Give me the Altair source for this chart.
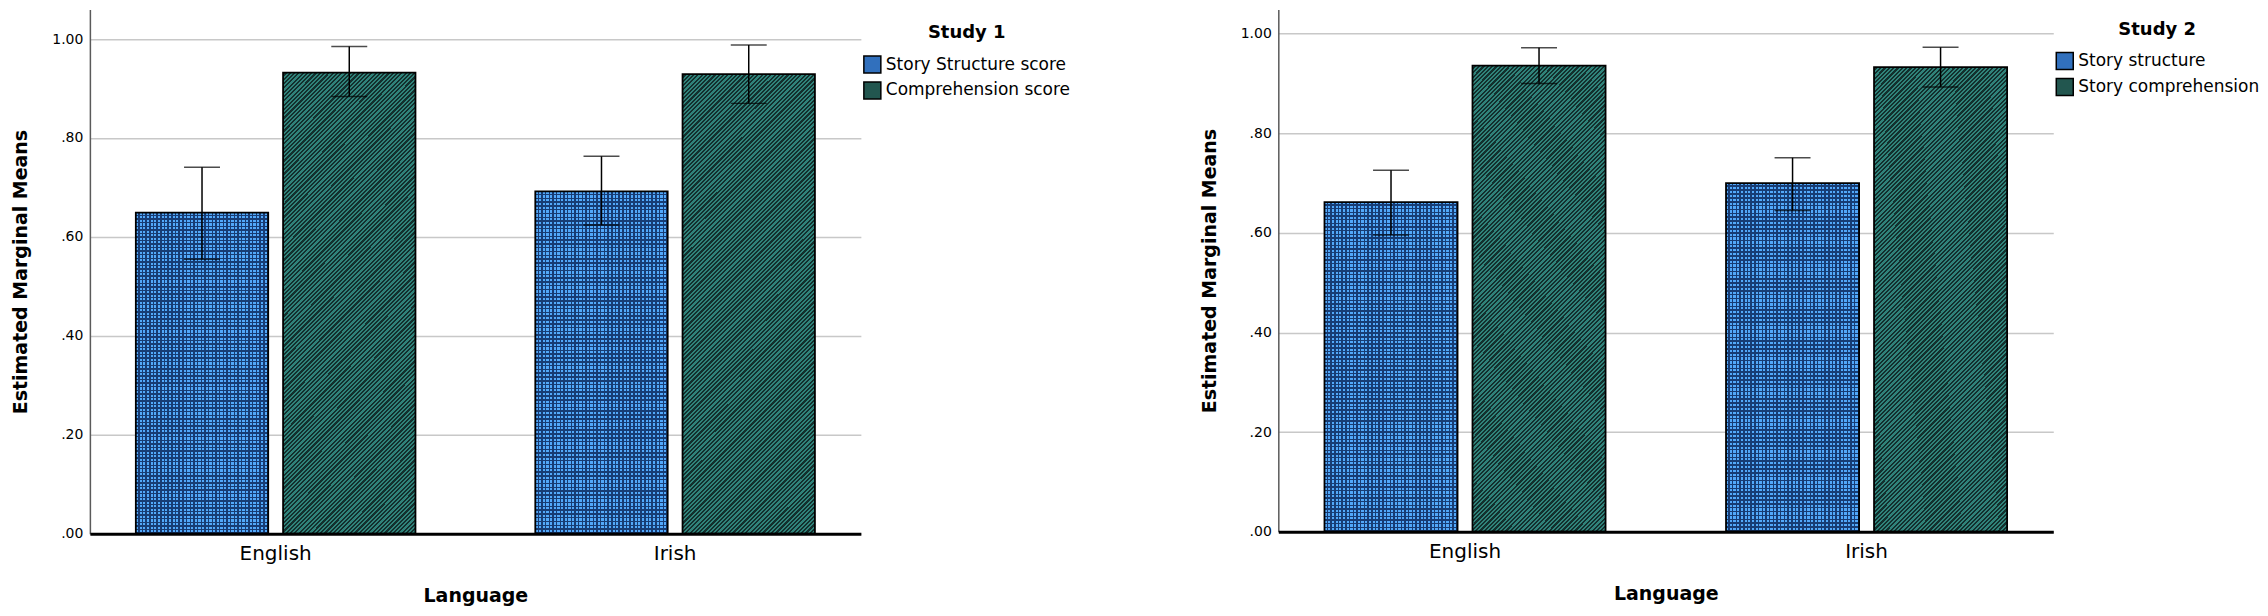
import altair as alt
import pandas as pd

# ---------------- data ----------------
languages = ["English", "Irish"]
y_ticks = [0.0, 0.2, 0.4, 0.6, 0.8, 1.0]

study1_title = "Study 1"
study1_series = ["Story Structure score", "Comprehension score"]
study1_structure_mean = [0.649, 0.692]
study1_structure_low = [0.555, 0.624]
study1_structure_high = [0.741, 0.763]
study1_comprehension_mean = [0.932, 0.929]
study1_comprehension_low = [0.884, 0.870]
study1_comprehension_high = [0.985, 0.988]

study2_title = "Study 2"
study2_series = ["Story structure", "Story comprehension"]
study2_structure_mean = [0.662, 0.700]
study2_structure_low = [0.596, 0.645]
study2_structure_high = [0.726, 0.751]
study2_comprehension_mean = [0.936, 0.933]
study2_comprehension_low = [0.900, 0.893]
study2_comprehension_high = [0.972, 0.973]

# ---------------- styles ----------------
FONT = "DejaVu Sans"
BLUE_AVG = "#3170bd"
TEAL_AVG = "#22564f"
BLUE_LIGHT = "#52a8fa"
BLUE_DARK = "#173c74"
TEAL_LIGHT = "#30837a"
TEAL_DARK = "#13302e"


def stripe_stops(n, c1, c2, frac):
    stops = []
    for i in range(n):
        a = i / n
        b = (i + frac) / n
        c = (i + 1) / n
        stops += [
            {"offset": a, "color": c1},
            {"offset": b, "color": c1},
            {"offset": b, "color": c2},
            {"offset": c, "color": c2},
        ]
    return stops


# diagonal hatch ("/") for comprehension bars
_w, _h = 133.0, 462.0
_k = (_w + _h) / (_w * _w + _h * _h)
hatch_fill = {
    "gradient": "linear",
    "x1": 0, "y1": 0, "x2": _k * _w, "y2": _k * _h,
    "stops": stripe_stops(138, TEAL_LIGHT, TEAL_DARK, 0.5),
}
# checker for structure bars: vertical stripes + horizontal overlay
vert_fill = {
    "gradient": "linear",
    "x1": 0, "y1": 0, "x2": 1, "y2": 0,
    "stops": stripe_stops(36, BLUE_LIGHT, BLUE_DARK, 0.6),
}
horiz_fill = {
    "gradient": "linear",
    "x1": 0, "y1": 0, "x2": 0, "y2": 1,
    "stops": stripe_stops(90, "rgba(0,0,0,0)", BLUE_DARK, 0.6),
}


def make_panel(title, series, s_m, s_lo, s_hi, c_m, c_lo, c_hi,
               width, height, ymax, lx, ly):
    rows = []
    for i, lang in enumerate(languages):
        rows.append({"language": lang, "series": series[0],
                     "mean": s_m[i], "low": s_lo[i], "high": s_hi[i]})
        rows.append({"language": lang, "series": series[1],
                     "mean": c_m[i], "low": c_lo[i], "high": c_hi[i]})
    df = pd.DataFrame(rows)

    x = alt.X(
        "language:N",
        sort=languages,
        scale=alt.Scale(domain=languages, paddingInner=0.3, paddingOuter=0.115),
        axis=alt.Axis(
            title="Language", labelAngle=0, labelFontSize=20, labelPadding=10,
            ticks=False, domainColor="black", domainWidth=3, grid=False,
            titleFontSize=19, titleFontWeight="bold", titlePadding=23,
            zindex=1, labelColor="black", titleColor="black",
        ),
    )
    xo = alt.XOffset(
        "series:N",
        scale=alt.Scale(domain=series, paddingInner=0.101, paddingOuter=0),
    )
    yaxis = alt.Axis(
        title="Estimated Marginal Means", values=y_ticks,
        labelExpr="datum.value >= 1 ? format(datum.value, '.2f') : '.' + substring(format(datum.value, '.2f'), 2)",
        labelFontSize=14, labelPadding=7, ticks=False,
        domainColor="#5a5a5a", domainWidth=1.5,
        gridColor="#c8c8c8", gridWidth=1.5,
        titleFontSize=19, titleFontWeight="bold", titlePadding=21,
        labelColor="black", titleColor="black", zindex=0,
    )
    yscale = alt.Scale(domain=[0, ymax], nice=False, zero=True)

    def ye(field):
        return alt.Y(field, scale=yscale, axis=yaxis, title="Estimated Marginal Means")

    base = alt.Chart(df)

    solid = base.mark_bar().encode(
        x=x, xOffset=xo, y=ye("mean:Q"),
        color=alt.Color(
            "series:N",
            scale=alt.Scale(domain=series, range=[BLUE_AVG, TEAL_AVG]),
            legend=alt.Legend(
                title=title, orient="none", legendX=lx, legendY=ly,
                direction="vertical", symbolType="square", symbolSize=289,
                symbolStrokeColor="black", symbolStrokeWidth=1.5,
                symbolOpacity=1, labelFontSize=17, labelColor="black",
                labelLimit=400,
                titleFontSize=18, titleFontWeight="bold", titleColor="black",
                titleAnchor="middle", rowPadding=3, labelOffset=4,
                titlePadding=13, padding=0,
            ),
        ),
    )
    hatch = base.transform_filter(
        alt.datum.series == series[1]
    ).mark_bar(fill=hatch_fill, stroke="black", strokeWidth=1.8).encode(
        x=x, xOffset=xo, y=ye("mean:Q"))
    vstripes = base.transform_filter(
        alt.datum.series == series[0]
    ).mark_bar(fill=vert_fill).encode(x=x, xOffset=xo, y=ye("mean:Q"))
    hstripes = base.transform_filter(
        alt.datum.series == series[0]
    ).mark_bar(fill=horiz_fill, stroke="black", strokeWidth=1.8).encode(
        x=x, xOffset=xo, y=ye("mean:Q"))

    whisker = base.mark_rule(color="black", strokeWidth=1.5).encode(
        x=x, xOffset=xo, y=ye("low:Q"), y2="high:Q")
    cap_lo = base.mark_tick(color="black", thickness=1.5, size=36,
                            orient="horizontal").encode(
        x=x, xOffset=xo, y=ye("low:Q"))
    cap_hi = base.mark_tick(color="black", thickness=1.5, size=36,
                            orient="horizontal").encode(
        x=x, xOffset=xo, y=ye("high:Q"))

    return alt.layer(solid, hatch, vstripes, hstripes, whisker, cap_lo, cap_hi).properties(
        width=width, height=height)


left = make_panel(study1_title, study1_series,
                  study1_structure_mean, study1_structure_low, study1_structure_high,
                  study1_comprehension_mean, study1_comprehension_low, study1_comprehension_high,
                  width=772, height=525, ymax=1.06, lx=774, ly=14.7)
right = make_panel(study2_title, study2_series,
                   study2_structure_mean, study2_structure_low, study2_structure_high,
                   study2_comprehension_mean, study2_comprehension_low, study2_comprehension_high,
                   width=776, height=523, ymax=1.049, lx=778, ly=11.2)

chart = alt.hconcat(left, right, spacing=129).resolve_scale(
    x="independent", y="independent", xOffset="independent", color="independent"
).resolve_legend(color="independent").properties(
    padding={"left": 3, "top": 1, "right": 0, "bottom": 0}
).configure(font=FONT).configure_view(stroke=None)

chart.save("out.html", embed_options={"renderer": "svg", "actions": False})
